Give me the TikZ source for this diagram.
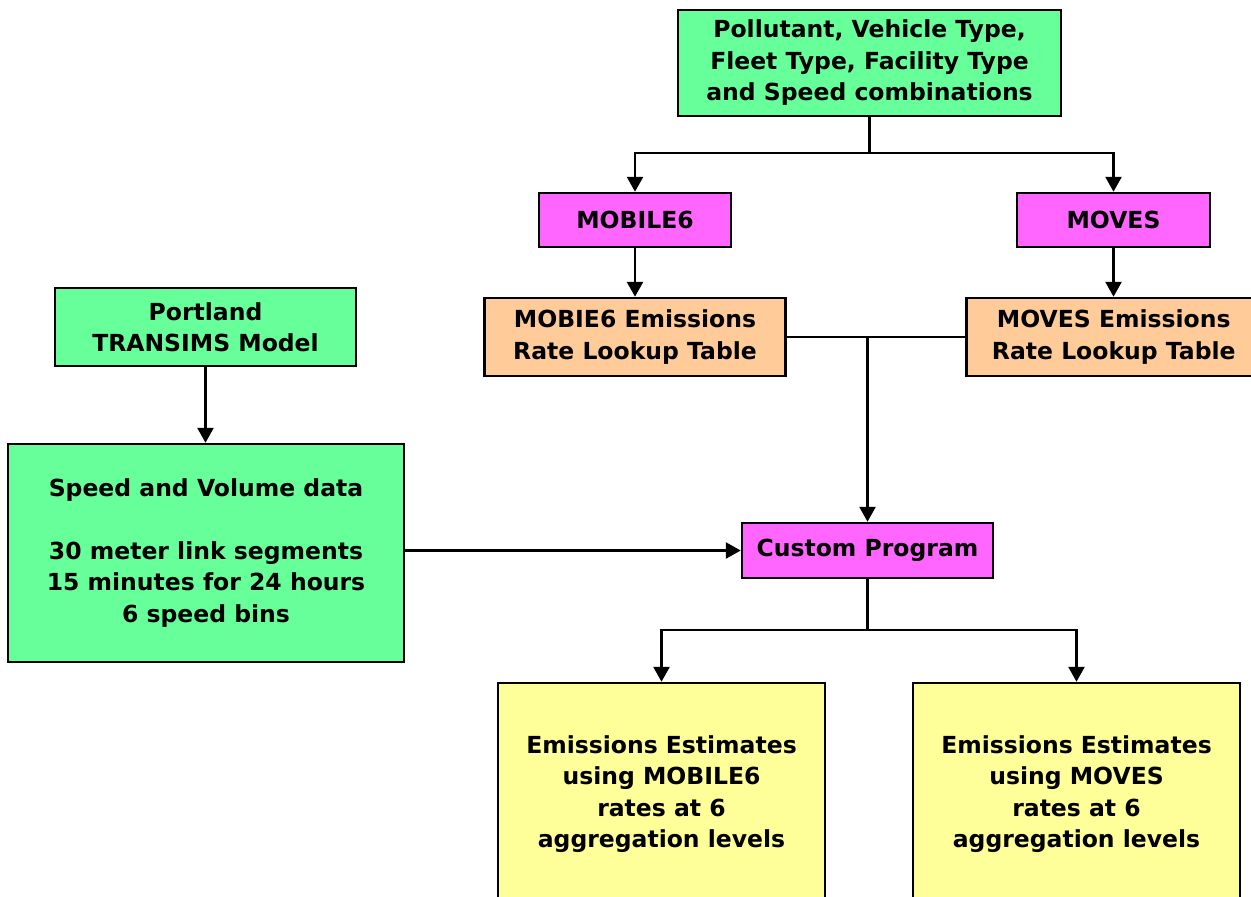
\documentclass[tikz,border=0pt]{standalone}
\usepackage{fontspec}
\setmainfont{DejaVu Sans}
\usetikzlibrary{arrows.meta}
\definecolor{boxgreen}{RGB}{102,255,153}
\definecolor{boxpink}{RGB}{255,102,255}
\definecolor{boxorange}{RGB}{255,204,153}
\definecolor{boxyellow}{RGB}{255,255,153}

\begin{document}
\begin{tikzpicture}[x=1pt,y=1pt,yscale=-1,xscale=1,
	box/.style={draw=black,line width=2.5pt,align=center,inner sep=0pt,
		font=\fontsize{23.5}{31.5}\selectfont\bfseries},
	link/.style={draw=black,line width=2.6pt},
	arrowlink/.style={link,-{Triangle[width=16pt,length=15pt]}}]
	\useasboundingbox (0,0) rectangle (1251,897);
	%Shape: Rectangle [id:top]
	\node (pollut) [box,fill=boxgreen,minimum width=383pt,minimum height=106pt] at (869.5,63) {Pollutant, Vehicle Type,\\Fleet Type, Facility Type\\and Speed combinations};
	%Shape: Rectangle [id:models]
	\node (mobile) [box,fill=boxpink,minimum width=192pt,minimum height=54pt] at (635,220) {MOBILE6};
	\node (moves) [box,fill=boxpink,minimum width=193pt,minimum height=54pt] at (1113.5,220) {MOVES};
	%Shape: Rectangle [id:tables]
	\node (mobtab) [box,fill=boxorange,minimum width=301pt,minimum height=78pt] at (635,337) {MOBIE6 Emissions\\Rate Lookup Table};
	\node (movtab) [box,fill=boxorange,minimum width=290pt,minimum height=78pt,anchor=west] at (965,337) {\hspace*{5pt}MOVES Emissions\\\hspace*{5pt}Rate Lookup Table};
	%Shape: Rectangle [id:transims]
	\node (portland) [box,fill=boxgreen,minimum width=301pt,minimum height=78pt] at (205.5,327) {Portland\\TRANSIMS Model};
	\node (speed) [box,fill=boxgreen,minimum width=396pt,minimum height=218pt] at (206,553) {Speed and Volume data\\[31.5pt]30 meter link segments\\15 minutes for 24 hours\\6 speed bins};
	%Shape: Rectangle [id:program]
	\node (custom) [box,fill=boxpink,minimum width=251pt,minimum height=55pt] at (867.5,550.5) {Custom Program};
	%Shape: Rectangle [id:results]
	\node (estmob) [box,fill=boxyellow,minimum width=327pt,minimum height=222pt] at (661.5,794) {Emissions Estimates\\using MOBILE6\\rates at 6\\aggregation levels};
	\node (estmov) [box,fill=boxyellow,minimum width=327pt,minimum height=222pt] at (1076.5,794) {Emissions Estimates\\using MOVES\\rates at 6\\aggregation levels};

	%Straight Lines [id:split top]
	\coordinate (split1) at (869.5,153);
	\draw[link] (pollut.south) -- (split1);
	\draw[arrowlink] (split1) -| (mobile.north);
	\draw[arrowlink] (split1) -| (moves.north);
	\draw[arrowlink] (mobile.south) -- (mobtab.north);
	\draw[arrowlink] (moves.south) -- (moves.south |- movtab.north);
	%Straight Lines [id:join tables]
	\coordinate (join) at (custom.north |- mobtab.east);
	\draw[link] (mobtab.east) -- (join);
	\draw[link] (movtab.west) -- (join);
	\draw[arrowlink] (join) -- (custom.north);
	%Straight Lines [id:left]
	\draw[arrowlink] (portland.south) -- (portland.south |- speed.north);
	\draw[arrowlink] (speed.east |- custom.west) -- (custom.west);
	%Straight Lines [id:split bottom]
	\coordinate (split2) at (867.5,630);
	\draw[link] (custom.south) -- (split2);
	\draw[arrowlink] (split2) -| (estmob.north);
	\draw[arrowlink] (split2) -| (estmov.north);
\end{tikzpicture}
\end{document}
